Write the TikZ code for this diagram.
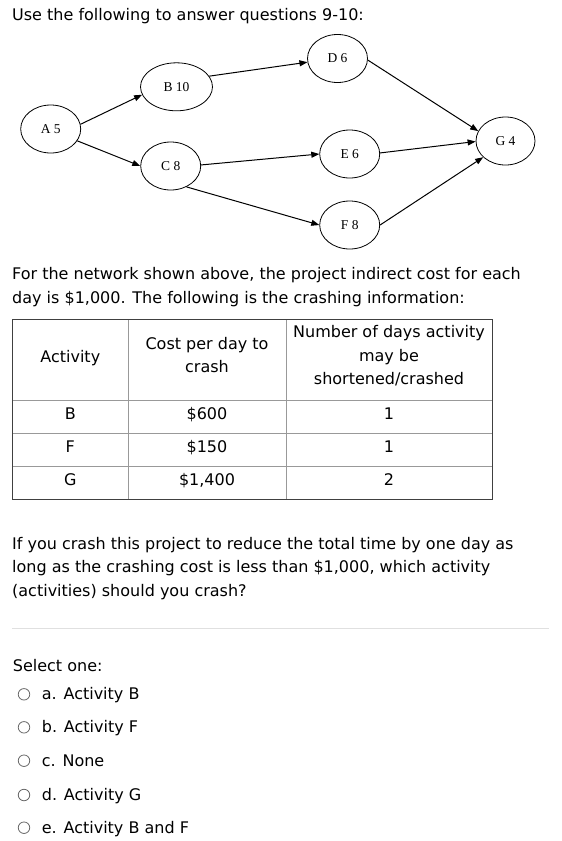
\documentclass[tikz,border=0pt]{standalone}
\usepackage{fontspec}
\setmainfont{DejaVu Sans}
\newfontfamily\netfont{Liberation Serif}
\usetikzlibrary{shapes.geometric,arrows.meta}

\begin{document}
\begin{tikzpicture}[x=1pt,y=-1pt,
  txt/.style={anchor=base west,inner sep=0pt,font=\fontsize{16}{24}\selectfont},
  ctr/.style={anchor=base,inner sep=0pt,font=\fontsize{16}{24}\selectfont},
  act/.style={draw,ellipse,line width=0.8pt,inner sep=0pt,minimum width=60pt,minimum height=48pt,
    font=\netfont\fontsize{13.5}{15}\selectfont},
  arr/.style={-{Triangle[length=8pt,width=6pt]},line width=1pt},
  opt/.style={circle,draw=black!60,line width=0.8pt,inner sep=0pt,minimum size=11.5pt}]
\useasboundingbox (0,0) rectangle (562,841);

\node[txt] (title) at (12,20) {Use the following to answer questions 9-10:};

% network
\node[act] (A) at (50.7,129) {A 5};
\node[act,minimum width=72pt] (B) at (176.5,86.8) {B 10};
\node[act] (C) at (170.7,166) {C 8};
\node[act] (D) at (337.5,58.5) {D 6};
\node[act] (E) at (349.7,154) {E 6};
\node[act] (F) at (349.7,225) {F 8};
\node[act,minimum width=59pt] (G) at (505.5,141) {G 4};

\draw[arr] (A.9) -- (B.193);
\draw[arr] (A.-24) -- (C.180);
\draw[arr] (B.18) -- (D.187);
\draw[arr] (C.2) -- (E.180);
\draw[arr] (C.-53) -- (F.180);
\draw[arr] (D.-3) -- (G.160);
\draw[arr] (E.2) -- (G.181);
\draw[arr] (F.0) -- (G.216);

\node[txt] (p1) at (12,279) {For the network shown above, the project indirect cost for each};
\node[txt] (p2) at (12,303) {day is \$1,000. The following is the crashing information:};

% table
\draw[black!40] (12.3,400) -- (492,400);
\draw[black!40] (12.3,433.3) -- (492,433.3);
\draw[black!40] (12.3,466) -- (492,466);
\draw[black!40] (128.3,319.3) -- (128.3,499.3);
\draw[black!40] (286,319.3) -- (286,499.3);
\draw[black!75,line width=1pt] (12.3,319.3) rectangle (492,499.3);

\node[ctr] (h1) at (70.3,362) {Activity};
\node[ctr] (h2a) at (207,349.5) {Cost per day to};
\node[ctr] (h2b) at (207,372.5) {crash};
\node[ctr] (h3a) at (389,337) {Number of days activity};
\node[ctr] (h3b) at (389,361) {may be};
\node[ctr] (h3c) at (389,384.5) {shortened/crashed};
\foreach \y/\a/\c/\n in {419.8/B/\$600/1, 452.5/F/\$150/1, 485/G/\$1{,}400/2} {
  \node[ctr] at (70.3,\y) {\a};
  \node[ctr] at (207,\y) {\c};
  \node[ctr] at (389,\y) {\n};
}

\node[txt] (q1) at (12,549.5) {If you crash this project to reduce the total time by one day as};
\node[txt] (q2) at (12,572.5) {long as the crashing cost is less than \$1,000, which activity};
\node[txt] (q3) at (12,596) {(activities) should you crash?};

\draw[black!12] (12,628.3) -- (549,628.3);

\node[txt] (sel) at (12.7,671.5) {Select one:};
\foreach \y/\t [count=\i] in {694.3/a. Activity B, 727.3/b. Activity F, 760.7/c. None,
    795/d. Activity G, 827.7/e. Activity B and F} {
  \node[opt] (o\i) at (24,\y) {};
  \node[txt] (t\i) at (41.7,\y+5.6) {\t};
}
\end{tikzpicture}
\end{document}
